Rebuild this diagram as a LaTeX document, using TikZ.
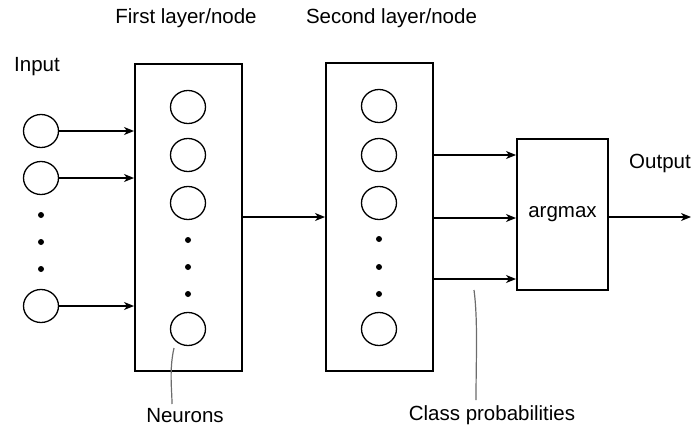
\documentclass[tikz,border=0pt]{standalone}
\usepackage{fontspec}
\setmainfont{Liberation Sans}
\usetikzlibrary{arrows.meta,shapes.geometric}
\begin{document}
\begin{tikzpicture}[x=1pt,y=-1pt,
  box/.style={draw,line width=2pt,rectangle,inner sep=0pt},
  neuron/.style={draw,line width=1.3pt,ellipse,minimum width=35pt,minimum height=33pt,inner sep=0pt},
  dotn/.style={fill,circle,minimum size=6pt,inner sep=0pt},
  arr/.style={line width=1.3pt,-{Stealth[length=10pt,width=8pt,inset=3pt]}},
  lbl/.style={font=\fontsize{20.5}{24}\selectfont,inner sep=0pt,anchor=base},
  callout/.style={draw=gray!85!black,line width=1.2pt}]
\useasboundingbox (0,0) rectangle (694,428);

% layer boxes
\node[box,minimum width=107pt,minimum height=307pt] (b1) at (188.5,217.5) {};
\node[box,minimum width=107pt,minimum height=308pt] (b2) at (379.5,217) {};
\node[box,minimum width=91pt,minimum height=151pt,font=\fontsize{20.5}{24}\selectfont] (am) at (562.5,214.5) {argmax};

% inputs
\node[neuron] (i1) at (41,131) {};
\node[neuron] (i2) at (41,178) {};
\node[neuron] (i3) at (41,306) {};
\node[dotn] (id1) at (41,215) {};
\node[dotn] (id2) at (41,242) {};
\node[dotn] (id3) at (41,269) {};

% first layer neurons
\node[neuron] (n11) at (188,107) {};
\node[neuron] (n12) at (188,155) {};
\node[neuron] (n13) at (188,203) {};
\node[dotn] (d11) at (188,240) {};
\node[dotn] (d12) at (188,267) {};
\node[dotn] (d13) at (188,294) {};
\node[neuron] (n14) at (188,329) {};

% second layer neurons
\node[neuron] (n21) at (379,106) {};
\node[neuron] (n22) at (379,155) {};
\node[neuron] (n23) at (379,203) {};
\node[dotn] (d21) at (379,239) {};
\node[dotn] (d22) at (379,267) {};
\node[dotn] (d23) at (379,294) {};
\node[neuron] (n24) at (379,329) {};

% arrows
\draw[arr] (i1.east) -- (i1.east -| b1.west);
\draw[arr] (i2.east) -- (i2.east -| b1.west);
\draw[arr] (i3.east) -- (i3.east -| b1.west);
\coordinate (m) at (0,217);
\draw[arr] (m -| b1.east) -- (m -| b2.west);
\coordinate (p1) at (0,155);
\coordinate (p2) at (0,218);
\coordinate (p3) at (0,279);
\draw[arr] (p1 -| b2.east) -- (p1 -| am.west);
\draw[arr] (p2 -| b2.east) -- (p2 -| am.west);
\draw[arr] (p3 -| b2.east) -- (p3 -| am.west);
\coordinate (outend) at (691,217);
\draw[arr] (outend -| am.east) -- (outend);

% labels
\node[lbl] (t1) at (186,24) {First layer/node};
\node[lbl] (t2) at (391.5,24) {Second layer/node};
\node[lbl,anchor=base west] (tin) at (14,72) {Input};
\node[lbl,anchor=base west] (tout) at (629,168) {Output};
\node[lbl] (tneu) at (185,422) {Neurons};
\node[lbl] (tcls) at (492,420) {Class probabilities};

% callouts
\coordinate (c1a) at (174,348);
\coordinate (c1b) at (172,404);
\draw[callout] (c1a) .. controls (169,370) and (172,390) .. (c1b);
\coordinate (c2a) at (474,290);
\coordinate (c2b) at (476,400);
\draw[callout] (c2a) .. controls (478,320) and (476,360) .. (c2b);
\end{tikzpicture}
\end{document}
